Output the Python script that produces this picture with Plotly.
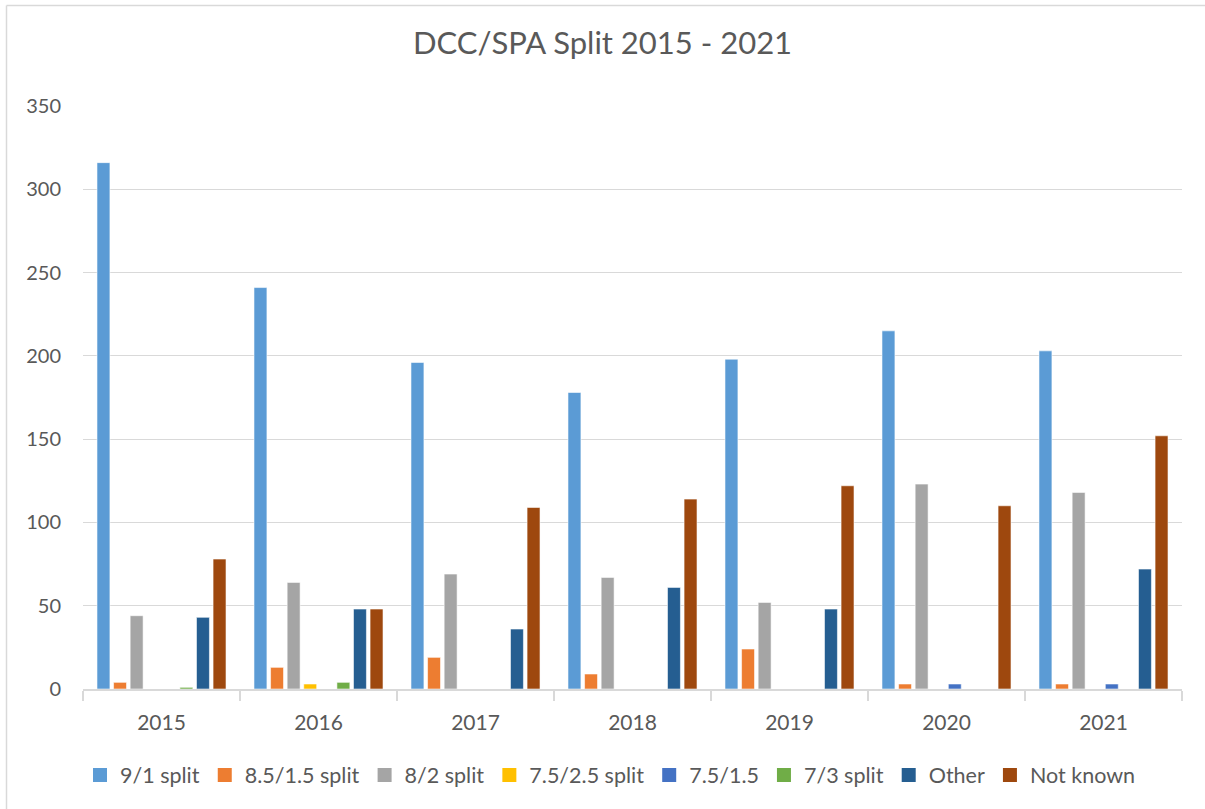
import plotly.graph_objects as go

years = ["2015", "2016", "2017", "2018", "2019", "2020", "2021"]
series_names = ["9/1 split", "8.5/1.5 split", "8/2 split", "7.5/2.5 split", "7.5/1.5", "7/3 split", "Other", "Not known"]
split_9_1 = [316, 241, 196, 178, 198, 215, 203]
split_85_15 = [4, 13, 19, 9, 24, 3, 3]
split_8_2 = [44, 64, 69, 67, 52, 123, 118]
split_75_25 = [0, 3, 0, 0, 0, 0, 0]
split_75_15 = [0, 0, 0, 0, 0, 3, 3]
split_7_3 = [1, 4, 0, 0, 0, 0, 0]
other = [43, 48, 36, 61, 48, 0, 72]
not_known = [78, 48, 109, 114, 122, 110, 152]
colors = ["#5B9BD5", "#ED7D31", "#A5A5A5", "#FFC000", "#4472C4", "#70AD47", "#255E91", "#9E480E"]
y_ticks = [0, 50, 100, 150, 200, 250, 300, 350]

all_values = [split_9_1, split_85_15, split_8_2, split_75_25, split_75_15, split_7_3, other, not_known]

FONT = "Lato, 'Open Sans', sans-serif"
TXT = "#595959"
GRID = "#D9D9D9"

fig = go.Figure()
for name, vals, col in zip(series_names, all_values, colors):
    fig.add_trace(go.Bar(x=years, y=vals, name=name, showlegend=False, legendgroup=name,
                         marker=dict(color=col, line=dict(color="rgba(255,255,255,0.7)", width=0.8))))
# legend entries with larger square keys
for name, col in zip(series_names, colors):
    fig.add_trace(go.Scatter(x=[None], y=[None], mode="markers", name=name, legendgroup=name,
                             marker=dict(symbol="square", size=14, color=col), hoverinfo="skip"))

W, H = 1205, 809
ml, mr, mt, mb = 83, 23, 106, 120
pw, ph = W - ml - mr, H - mt - mb

def px(x):
    return (x - ml) / pw

def py(y):
    return (H - mb - y) / ph

fig.update_layout(
    width=W, height=H,
    margin=dict(l=ml, r=mr, t=mt, b=mb),
    paper_bgcolor="white", plot_bgcolor="white",
    barmode="group", bargap=0.155, bargroupgap=0.22,
    title=dict(text="DCC/SPA Split 2015 - 2021", x=0.5, xanchor="center",
               xref="container", y=1 - 43 / H, yanchor="middle",
               font=dict(family=FONT, size=31, color=TXT)),
    font=dict(family=FONT, color=TXT),
    legend=dict(orientation="h", x=px(80), xanchor="left", y=py(775), yanchor="middle",
                font=dict(size=21.5, color=TXT), traceorder="normal", itemsizing="trace"),
    showlegend=True,
    xaxis=dict(type="category", showgrid=False, showline=True, linecolor=GRID, linewidth=1.5,
               ticks="outside", tickson="boundaries", ticklen=10, tickcolor=GRID, tickwidth=1.5,
               ticklabelstandoff=14,
               tickfont=dict(size=21, color=TXT)),
    yaxis=dict(range=[0, 350], tickvals=y_ticks, showgrid=True, gridcolor=GRID, gridwidth=1.3,
               zeroline=False, showline=False, ticks="", ticklabelstandoff=21,
               tickfont=dict(size=20, color=TXT)),
    shapes=[
        dict(type="line", xref="paper", yref="paper", x0=px(6.5), x1=px(1205), y0=py(5.5), y1=py(5.5),
             line=dict(color=GRID, width=1.5), layer="below"),
        dict(type="line", xref="paper", yref="paper", x0=px(6.5), x1=px(6.5), y0=py(809), y1=py(5.5),
             line=dict(color=GRID, width=1.5), layer="below"),
    ],
)

fig.write_html("out.html", config={"displayModeBar": False},
               post_script="document.body.style.margin='0';document.body.style.padding='0';")
